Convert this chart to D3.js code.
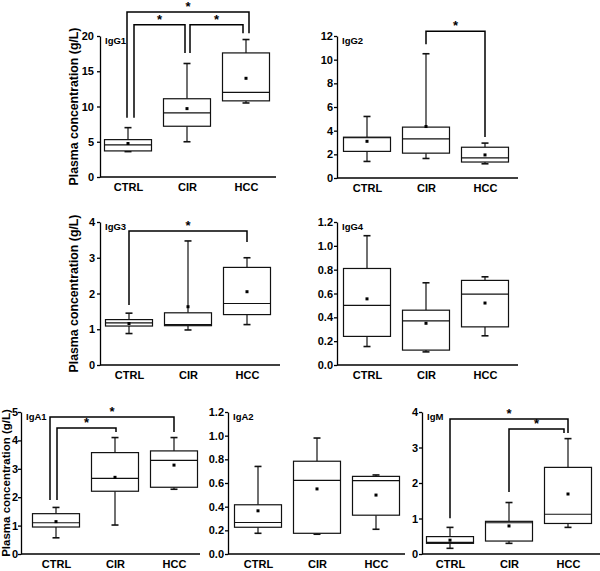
<!DOCTYPE html>
<html><head><meta charset="utf-8">
<script src="https://cdn.jsdelivr.net/npm/d3@7"></script>
<style>html,body{margin:0;padding:0;background:#fff;}svg{display:block;font-family:"Liberation Sans",Arial,sans-serif;}</style>
</head><body>
<svg id="chart" width="600" height="571"></svg>
<script>
// ---- DATA ----
const groups = ["CTRL", "CIR", "HCC"];
// stats per group: [low whisker, Q1, median, Q3, high whisker, mean]
const IgG1 = [[3.6, 3.7, 4.55, 5.3, 7.0, 4.75], [5.0, 7.2, 9.1, 11.1, 16.1, 9.7], [10.5, 10.8, 12.0, 17.6, 19.5, 14.0]];
const IgG2 = [[1.4, 2.25, 3.4, 3.45, 5.2, 3.1], [1.65, 2.1, 3.3, 4.3, 10.5, 4.35], [1.2, 1.35, 1.7, 2.6, 2.95, 1.95]];
const IgG3 = [[0.88, 1.09, 1.18, 1.27, 1.45, 1.16], [0.98, 1.10, 1.13, 1.46, 3.47, 1.63], [1.13, 1.41, 1.72, 2.73, 3.0, 2.05]];
const IgG4 = [[0.155, 0.24, 0.50, 0.81, 1.085, 0.555], [0.11, 0.125, 0.37, 0.46, 0.69, 0.35], [0.245, 0.32, 0.595, 0.71, 0.74, 0.52]];
const IgA1 = [[0.57, 0.95, 1.10, 1.42, 1.64, 1.14], [1.02, 2.21, 2.66, 3.57, 4.10, 2.70], [2.28, 2.35, 3.30, 3.63, 4.10, 3.13]];
const IgA2 = [[0.175, 0.226, 0.266, 0.416, 0.74, 0.365], [0.167, 0.175, 0.622, 0.784, 0.98, 0.55], [0.209, 0.328, 0.62, 0.656, 0.668, 0.498]];
const IgM  = [[0.16, 0.30, 0.33, 0.49, 0.75, 0.39], [0.30, 0.365, 0.88, 0.92, 1.45, 0.79], [0.75, 0.86, 1.12, 2.44, 3.25, 1.69]];

// y tick labels per panel
const ticksIgG1 = [0, 5, 10, 15, 20];
const ticksIgG2 = [0, 2, 4, 6, 8, 10, 12];
const ticksIgG3 = [0, 1, 2, 3, 4];
const ticksIgG4 = [0, 0.2, 0.4, 0.6, 0.8, 1.0, 1.2];
const ticksIgA1 = [0, 1, 2, 3, 4, 5];
const ticksIgA2 = [0, 0.2, 0.4, 0.6, 0.8, 1.0, 1.2];
const ticksIgM  = [0, 1, 2, 3, 4];

// significance brackets: [group a, group b, bar level, leg end a, leg end b] (data units)
const sigIgG1 = [[0, 2, 23.4, 8.4, 20.4], [0, 1, 21.6, 8.4, 17.6], [1, 2, 21.6, 17.6, 20.4]];
const sigIgG2 = [[1, 2, 12.4, 11.3, 3.47]];
const sigIgG3 = [[0, 2, 3.75, 1.68, 3.44]];
const sigIgA1 = [[0, 2, 4.82, 1.9, 4.3], [0, 1, 4.44, 1.9, 4.3]];
const sigIgM  = [[0, 2, 3.8, 1.01, 3.41], [1, 2, 3.52, 1.75, 3.41]];

// ---- LAYOUT ----
const panels = [
  {name: "IgG1", stats: IgG1, ticks: ticksIgG1, fmt: "d",  sig: sigIgG1, legDx: [[-1, 3], [6, -2], [3, -3]], x0: 100, x1: 276, off: 28, yTop: 36,  yBot: 177, pad: 3, titleX: 78, titleFs: 12.3},
  {name: "IgG2", stats: IgG2, ticks: ticksIgG2, fmt: "d",  sig: sigIgG2, legDx: [[0, 0]], x0: 337, x1: 518, off: 30, yTop: 36,  yBot: 178, pad: 1, titleX: null},
  {name: "IgG3", stats: IgG3, ticks: ticksIgG3, fmt: "d",  sig: sigIgG3, legDx: [[0, 0]], x0: 100, x1: 280, off: 29, yTop: 222, yBot: 365, pad: 2, titleX: 78, titleFs: 12.3},
  {name: "IgG4", stats: IgG4, ticks: ticksIgG4, fmt: ".1f", sig: [], legDx: [], x0: 337, x1: 518, off: 30, yTop: 222, yBot: 365, pad: 1, titleX: null},
  {name: "IgA1", stats: IgA1, ticks: ticksIgA1, fmt: "d",  sig: sigIgA1, legDx: [[-6, 0], [1, 1]], x0: 21,  x1: 200, off: 35, yTop: 412, yBot: 554, pad: 0, titleX: 10, titleFs: 11.5},
  {name: "IgA2", stats: IgA2, ticks: ticksIgA2, fmt: ".1f", sig: [], legDx: [], x0: 228, x1: 405, off: 30, yTop: 412, yBot: 554, pad: 1, titleX: null},
  {name: "IgM",  stats: IgM,  ticks: ticksIgM,  fmt: "d",  sig: sigIgM, legDx: [[0, 0], [0, -4]], x0: 422, x1: 600, off: 28, yTop: 412, yBot: 554, pad: 1, titleX: null}
];
const step = 59, boxW = 47, capW = 7;

const svg = d3.select("#chart");

panels.forEach(p => {
  const g = svg.append("g");
  const x = d3.scalePoint().domain(groups).range([p.x0 + p.off, p.x0 + p.off + 2 * step]);
  const yMax = p.ticks[p.ticks.length - 1];
  const y = d3.scaleLinear().domain([0, yMax]).range([p.yBot, p.yTop]);

  // y axis
  const ya = d3.axisLeft(y).tickValues(p.ticks).tickFormat(d3.format(p.fmt)).tickSizeInner(3).tickSizeOuter(0).tickPadding(p.pad);
  const yg = g.append("g").attr("transform", `translate(${p.x0},0)`).call(ya);
  yg.select(".domain").attr("stroke", "#000").attr("stroke-width", 1.3);
  yg.selectAll(".tick line").attr("stroke", "#000").attr("stroke-width", 1.3);
  yg.selectAll(".tick text").attr("font-size", 11).attr("font-weight", "bold").attr("fill", "#000");

  // x axis
  const xa = d3.axisBottom(x).tickSize(0).tickPadding(6);
  const xg = g.append("g").attr("transform", `translate(0,${p.yBot})`).call(xa);
  xg.select(".domain").attr("d", `M${p.x0},0H${p.x1}`).attr("stroke", "#000").attr("stroke-width", 1.3);
  xg.selectAll(".tick text").attr("font-size", 11).attr("font-weight", "bold").attr("fill", "#000");

  // panel label
  g.append("text").attr("x", p.x0 + 5).attr("y", p.yTop + 8).attr("font-size", 9.5).attr("font-weight", "bold").text(p.name);

  // y title
  if (p.titleX !== null) {
    g.append("text")
      .attr("transform", `translate(${p.titleX},${(p.yTop + p.yBot) / 2}) rotate(-90)`)
      .attr("text-anchor", "middle").attr("font-size", p.titleFs).attr("font-weight", "bold")
      .text("Plasma concentration (g/L)");
  }

  // boxes
  p.stats.forEach((s, i) => {
    const cx = x(groups[i]);
    const [lo, q1, med, q3, hi, mean] = s;
    const bg = g.append("g").attr("stroke", "#111").attr("stroke-width", 1.2).attr("fill", "none");
    bg.append("line").attr("x1", cx).attr("x2", cx).attr("y1", y(q3)).attr("y2", y(hi));
    bg.append("line").attr("x1", cx).attr("x2", cx).attr("y1", y(q1)).attr("y2", y(lo));
    bg.append("line").attr("x1", cx - capW / 2).attr("x2", cx + capW / 2).attr("y1", y(hi)).attr("y2", y(hi)).attr("stroke-width", 1.6);
    bg.append("line").attr("x1", cx - capW / 2).attr("x2", cx + capW / 2).attr("y1", y(lo)).attr("y2", y(lo)).attr("stroke-width", 1.6);
    bg.append("rect").attr("x", cx - boxW / 2).attr("width", boxW).attr("y", y(q3)).attr("height", y(q1) - y(q3)).attr("fill", "#fff");
    bg.append("line").attr("x1", cx - boxW / 2).attr("x2", cx + boxW / 2).attr("y1", y(med)).attr("y2", y(med));
    g.append("rect").attr("x", cx - 1.5).attr("y", y(mean) - 1.5).attr("width", 3).attr("height", 3).attr("fill", "#000");
  });

  // significance brackets
  p.sig.forEach((b, k) => {
    const [a, bb, lev, ea, eb] = b;
    const dx = p.legDx[k] || [0, 0];
    const xa1 = x(groups[a]) + dx[0], xb1 = x(groups[bb]) + dx[1];
    const yl = y(lev);
    g.append("path")
      .attr("d", `M${xa1},${y(ea)}V${yl}H${xb1}V${y(eb)}`)
      .attr("fill", "none").attr("stroke", "#000").attr("stroke-width", 1.5);
    g.append("text").attr("x", (xa1 + xb1) / 2).attr("y", yl - 1).attr("text-anchor", "middle")
      .attr("font-size", 13).attr("font-weight", "bold").text("*");
  });
});
</script>
</body></html>
